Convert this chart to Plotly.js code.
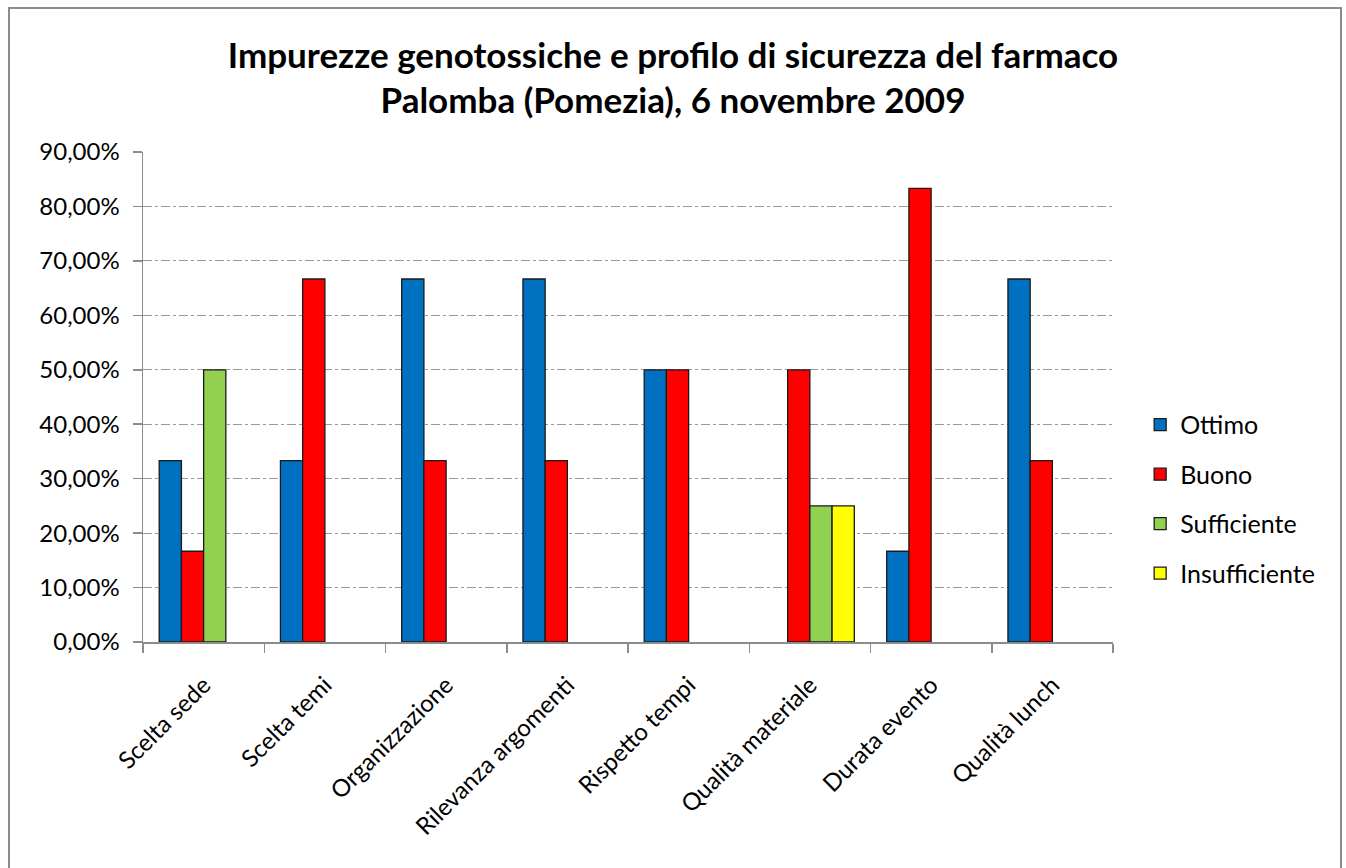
<!DOCTYPE html>
<html>
<head>
<meta charset="utf-8">
<script src="https://cdn.plot.ly/plotly-3.0.1.min.js"></script>
<style>
  html, body { margin: 0; padding: 0; background: #fff; overflow: hidden; }
  #frame { position: absolute; left: 8px; top: 7px; width: 1334px; height: 880px; border: 2px solid #8c8c8c; box-sizing: border-box; }
  #chart { position: absolute; left: 0; top: 0; width: 1346px; height: 868px; }
</style>
</head>
<body>
<div id="chart"></div>
<div id="frame"></div>
<script>
const categories = ["Scelta sede", "Scelta temi", "Organizzazione", "Rilevanza argomenti", "Rispetto tempi", "Qualità materiale", "Durata evento", "Qualità lunch"];
const ottimo = [0.3333, 0.3333, 0.6667, 0.6667, 0.50, 0, 0.1667, 0.6667];
const buono = [0.1667, 0.6667, 0.3333, 0.3333, 0.50, 0.50, 0.8333, 0.3333];
const sufficiente = [0.50, 0, 0, 0, 0, 0.25, 0, 0];
const insufficiente = [0, 0, 0, 0, 0, 0.25, 0, 0];
const seriesNames = ["Ottimo", "Buono", "Sufficiente", "Insufficiente"];
const seriesColors = ["#0070C0", "#FF0000", "#92D050", "#FFFF00"];
const seriesValues = [ottimo, buono, sufficiente, insufficiente];

const FONT = "Lato, 'Liberation Sans', sans-serif";

const traces = seriesValues.map((vals, i) => ({
  type: "bar",
  name: seriesNames[i],
  x: categories,
  y: vals.map(v => (v === 0 ? null : v)),
  legendgroup: "g" + i,
  marker: { color: seriesColors[i], line: { color: "#1a1a1a", width: 1.3 } },
  hoverinfo: "x+y+name"
}));

const layout = {
  width: 1346,
  height: 868,
  paper_bgcolor: "rgba(0,0,0,0)",
  plot_bgcolor: "rgba(0,0,0,0)",
  separators: ",.",
  margin: { l: 143, r: 233, t: 152, b: 226 },
  barmode: "group",
  bargap: 0.267,
  bargroupgap: 0,
  title: {
    text: "<b>Impurezze genotossiche e profilo di sicurezza del farmaco<br>Palomba (Pomezia), 6 novembre 2009</b>",
    font: { family: FONT, size: 35, color: "#000" },
    x: 0.5, xanchor: "center", xref: "container",
    y: 0.922, yanchor: "top"
  },
  xaxis: {
    type: "category",
    tickangle: -45,
    tickfont: { family: FONT, size: 24, color: "#000" },
    ticklabelstandoff: 18,
    showline: true, linecolor: "#8c8c8c", linewidth: 1.5,
    ticks: "outside", ticklen: 9, tickcolor: "#8c8c8c", tickwidth: 1.5,
    tickson: "boundaries",
    showgrid: false,
    zeroline: false
  },
  yaxis: {
    range: [0, 0.9],
    dtick: 0.1,
    tick0: 0,
    tickformat: ".2%",
    tickfont: { family: FONT, size: 24, color: "#000" },
    ticklabelstandoff: 8,
    showline: true, linecolor: "#8c8c8c", linewidth: 1.5,
    ticks: "outside", ticklen: 9, tickcolor: "#8c8c8c", tickwidth: 1.5,
    showgrid: true, gridcolor: "#9a9a9a", gridwidth: 1, griddash: "dashdot",
    zeroline: false
  },
  legend: {
    x: 1.028, xanchor: "left",
    y: 0.292, yanchor: "middle",
    font: { family: FONT, size: 25, color: "#000" },
    tracegroupgap: 14,
    itemwidth: 30,
    bgcolor: "rgba(0,0,0,0)"
  },
  showlegend: true
};

Plotly.newPlot("chart", traces, layout, { displayModeBar: false, staticPlot: true });
</script>
</body>
</html>
